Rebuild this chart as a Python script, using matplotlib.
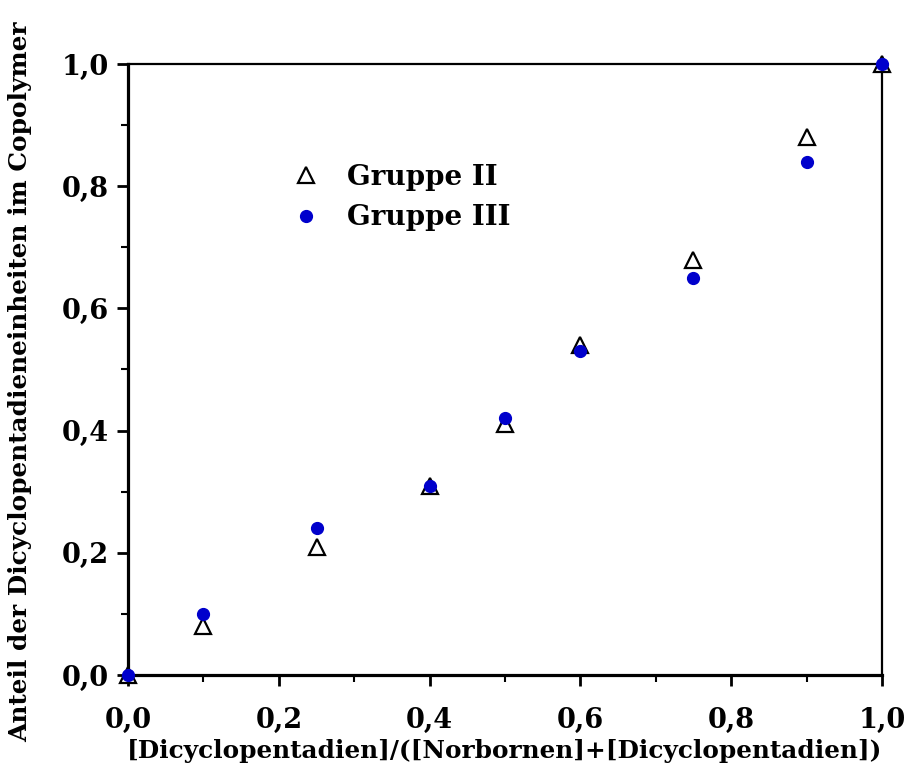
import matplotlib.pyplot as plt
import numpy as np
from matplotlib.ticker import MultipleLocator

# Werte
anteil_feed = [0.0, 0.10, 0.25, 0.40, 0.50, 0.60, 0.75, 0.90, 1.0]
gruppe2 = [0.0, 0.08, 0.21, 0.31, 0.41, 0.54, 0.68, 0.88, 1.0]
gruppe3 = [0.0, 0.10, 0.24, 0.31, 0.42, 0.53, 0.65, 0.84, 1.0]

ticks = [0.0, 0.2, 0.4, 0.6, 0.8, 1.0]
tick_labels = ["0,0", "0,2", "0,4", "0,6", "0,8", "1,0"]

plt.rcParams["font.family"] = "DejaVu Serif"
plt.rcParams["font.weight"] = "bold"

fig = plt.figure(figsize=(9.1, 7.73), dpi=100)
ax = fig.add_axes([0.1407, 0.1268, 0.8285, 0.7904])

ax.plot(anteil_feed, gruppe2, linestyle="none", marker="^", markersize=12,
        markerfacecolor="white", markeredgecolor="black", markeredgewidth=1.6,
        label="Gruppe II", clip_on=False, zorder=3)
ax.plot(anteil_feed, gruppe3, linestyle="none", marker="o", markersize=8.5,
        color="#0000cc", label="Gruppe III", clip_on=False, zorder=4)

ax.set_xlim(0, 1)
ax.set_ylim(0, 1)
ax.set_xticks(ticks)
ax.set_xticklabels(tick_labels)
ax.set_yticks(ticks)
ax.set_yticklabels(tick_labels)
ax.xaxis.set_minor_locator(MultipleLocator(0.1))
ax.yaxis.set_minor_locator(MultipleLocator(0.1))

ax.tick_params(which="major", direction="out", length=8, width=2,
               labelsize=19.5)
ax.tick_params(which="minor", direction="out", length=5, width=1.5)
ax.tick_params(axis="x", which="major", pad=15)
ax.tick_params(axis="y", which="major", pad=6)

for s in ["left", "bottom"]:
    ax.spines[s].set_linewidth(2.3)
for s in ["top", "right"]:
    ax.spines[s].set_linewidth(1.6)

ax.set_xlabel("[Dicyclopentadien]/([Norbornen]+[Dicyclopentadien])",
              fontsize=17.8, fontweight="bold", labelpad=4)
ax.set_ylabel("Anteil der Dicyclopentadieneinheiten im Copolymer",
              fontsize=17.8, fontweight="bold")
ax.yaxis.set_label_coords(-0.127, 0.48)

ax.legend(loc="upper left", bbox_to_anchor=(0.185, 0.878), frameon=False,
          fontsize=20, handletextpad=0.95, labelspacing=0.5, handlelength=1)

plt.savefig("out.png", dpi=100)
